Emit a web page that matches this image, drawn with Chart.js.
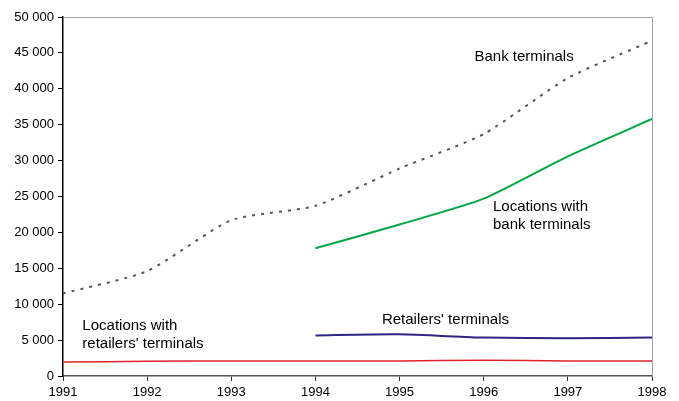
<!DOCTYPE html>
<html><head><meta charset="utf-8">
<script src="https://cdn.jsdelivr.net/npm/chart.js@4/dist/chart.umd.min.js"></script>
<style>html,body{margin:0;padding:0;background:#fff}#wrap{width:679px;height:401px}</style>
</head><body><div id="wrap"><canvas id="c" width="679" height="401"></canvas></div>
<script>
const years = [1991, 1992, 1993, 1994, 1995, 1996, 1997, 1998];
const bankTerminals = [11500, 14600, 21700, 23700, 28900, 33700, 41500, 46700];
const locationsBank = [null, null, null, 17800, 21100, 24700, 30600, 35800];
const retailersTerminals = [null, null, null, 5650, 5800, 5350, 5250, 5350];
const locationsRetailers = [1950, 2050, 2100, 2100, 2100, 2200, 2100, 2100];
const labels = [
  {lines: ["Bank terminals"], x: 1995.89, y: 44500},
  {lines: ["Locations with", "bank terminals"], x: 1996.11, y: 23600},
  {lines: ["Retailers' terminals"], x: 1994.79, y: 7750},
  {lines: ["Locations with", "retailers' terminals"], x: 1991.23, y: 7050}
];
const pts = arr => years.map((yr, i) => ({x: yr, y: arr[i]})).filter(p => p.y !== null);
const fmt = v => String(v).replace(/\B(?=(\d{3})+(?!\d))/g, ' ');

const boxPlugin = {
  id: 'box',
  beforeDatasetsDraw(chart) {
    const {ctx, chartArea: a} = chart;
    ctx.save();
    ctx.strokeStyle = '#a0a0a0';
    ctx.lineWidth = 1;
    ctx.beginPath();
    ctx.moveTo(a.left, a.top + 0.5);
    ctx.lineTo(a.right + 0.5, a.top + 0.5);
    ctx.lineTo(a.right + 0.5, a.bottom);
    ctx.stroke();
    ctx.restore();
  },
  afterDatasetsDraw(chart) {
    const {ctx, scales} = chart;
    ctx.save();
    ctx.fillStyle = '#000';
    ctx.font = '15px "Liberation Sans", Arial, sans-serif';
    ctx.textAlign = 'left';
    ctx.textBaseline = 'middle';
    labels.forEach(l => {
      const px = scales.x.getPixelForValue(l.x);
      const py = scales.y.getPixelForValue(l.y);
      l.lines.forEach((t, i) => ctx.fillText(t, px, py + i * 18));
    });
    ctx.restore();
  }
};

new Chart(document.getElementById('c'), {
  type: 'line',
  data: {
    datasets: [
      {label: 'Bank terminals', data: pts(bankTerminals), borderColor: '#555555', borderWidth: 2, borderDash: [3, 6], tension: 0.2, pointRadius: 0},
      {label: 'Locations with bank terminals', data: pts(locationsBank), borderColor: '#00a544', borderWidth: 2, tension: 0.2, pointRadius: 0},
      {label: "Retailers' terminals", data: pts(retailersTerminals), borderColor: '#2e2586', borderWidth: 2, tension: 0.2, pointRadius: 0},
      {label: "Locations with retailers' terminals", data: pts(locationsRetailers), borderColor: '#e2202c', borderWidth: 1.5, tension: 0.2, pointRadius: 0}
    ]
  },
  options: {
    responsive: false,
    animation: false,
    layout: {padding: {top: 17, right: 27, bottom: 0, left: 0}},
    plugins: {legend: {display: false}, tooltip: {enabled: false}},
    scales: {
      x: {
        type: 'linear', min: 1991, max: 1998,
        afterFit: s => { s.height = 25; },
        ticks: {stepSize: 1, color: '#000', font: {family: '"Liberation Sans", Arial, sans-serif', size: 13}, callback: v => String(v), maxRotation: 0, padding: 4},
        grid: {drawOnChartArea: false, color: '#333', tickLength: 5},
        border: {color: '#555', width: 1.5}
      },
      y: {
        min: 0, max: 50000,
        afterFit: s => { s.width = 63; },
        ticks: {stepSize: 5000, color: '#000', font: {family: '"Liberation Sans", Arial, sans-serif', size: 13}, callback: v => fmt(v), padding: 4},
        grid: {drawOnChartArea: false, color: '#000', tickLength: 5},
        border: {color: '#000', width: 1.5}
      }
    }
  },
  plugins: [boxPlugin]
});
</script>
</body></html>
